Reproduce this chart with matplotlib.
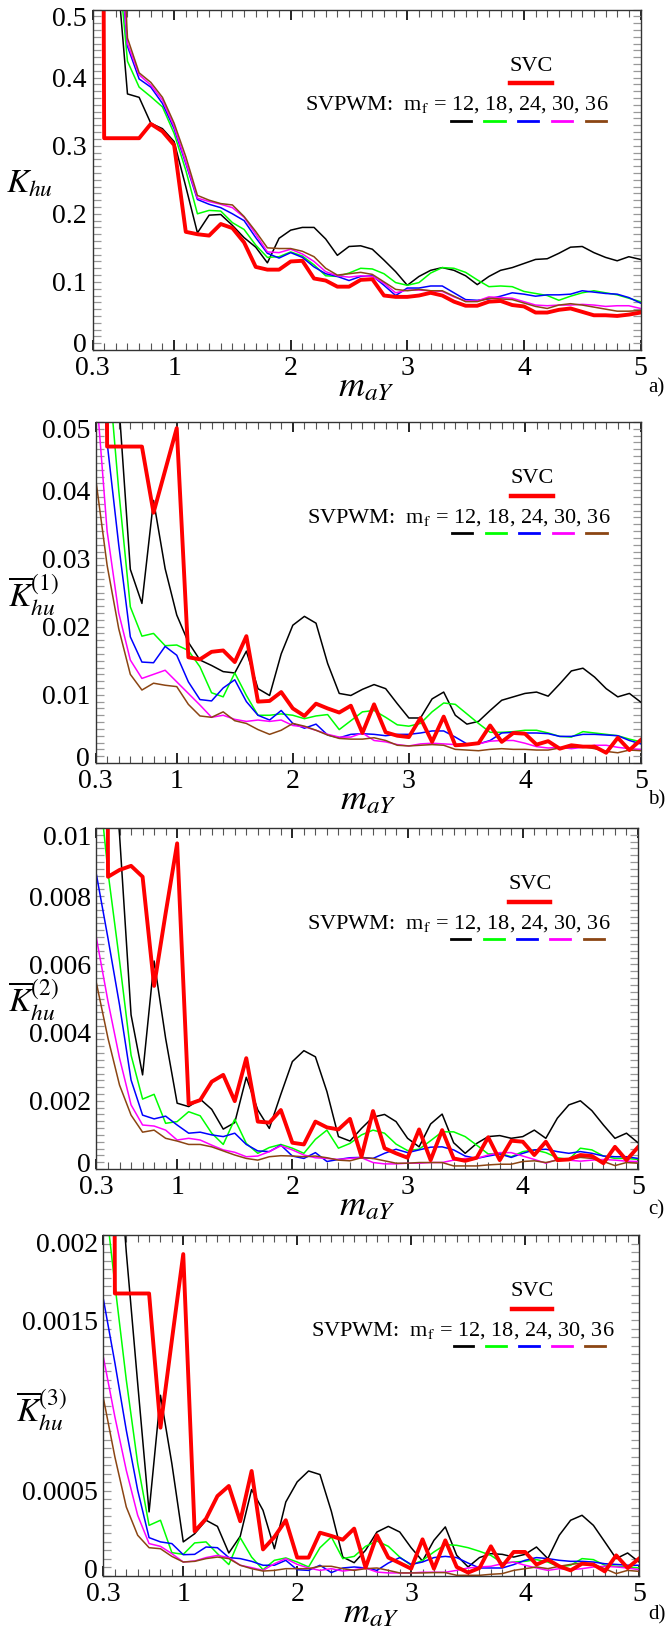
import numpy as np
import matplotlib.pyplot as plt
import matplotlib.transforms as mtransforms
from matplotlib.ticker import MultipleLocator

plt.rcParams['font.family'] = ['Liberation Serif', 'DejaVu Serif']
plt.rcParams['mathtext.fontset'] = 'stix'

m_aY = [0.3, 0.4, 0.5, 0.6, 0.7, 0.8, 0.9, 1.0,
        1.1, 1.2, 1.3, 1.4, 1.5, 1.6, 1.7, 1.8, 1.9, 2.0,
        2.1, 2.2, 2.3, 2.4, 2.5, 2.6, 2.7, 2.8, 2.9, 3.0,
        3.1, 3.2, 3.3, 3.4, 3.5, 3.6, 3.7, 3.8, 3.9, 4.0,
        4.1, 4.2, 4.3, 4.4, 4.5, 4.6, 4.7, 4.8, 4.9, 5.0]

# a) K_hu
a_svc = [5.0, .311, .311, .311, .311, .332, .321, .301,
         .1735, .170, .168, .185, .179, .158, .122, .118, .118, .130,
         .131, .105, .102, .093, .093, .103, .104, .080, .078, .078,
         .080, .084, .080, .071, .065, .065, .071, .072, .066, .064,
         .055, .055, .059, .061, .056, .051, .051, .050, .052, .055]
a_mf12 = [1.0, 0.8, 0.58, .376, .371, .333, .325, .306,
          .240, .172, .198, .199, .183, .165, .151, .128, .164, .176,
          .180, .180, .163, .139, .152, .153, .148, .132, .115, .095,
          .108, .117, .121, .117, .109, .096, .108, .117, .121, .127,
          .133, .134, .142, .151, .152, .143, .136, .131, .137, .133]
a_mf18 = [1.0, 0.8, 0.61, .424, .386, .372, .357, .318,
          .264, .200, .205, .204, .187, .177, .154, .136, .137, .144,
          .138, .125, .109, .108, .113, .120, .119, .112, .099, .095,
          .099, .113, .121, .120, .114, .103, .093, .094, .093, .086,
          .083, .080, .073, .079, .084, .087, .084, .081, .076, .071]
a_mf24 = [1.0, 0.8, 0.65, .446, .398, .386, .362, .325,
          .274, .221, .214, .209, .200, .190, .165, .142, .135, .143,
          .136, .122, .112, .108, .102, .108, .109, .095, .080, .091,
          .091, .094, .094, .084, .074, .073, .075, .079, .084, .082,
          .079, .081, .081, .082, .087, .085, .083, .082, .077, .069]
a_mf30 = [1.0, 0.8, 0.66, .450, .404, .389, .367, .328,
          .276, .223, .218, .214, .209, .195, .170, .144, .143, .148,
          .141, .130, .115, .109, .107, .109, .108, .098, .084, .088,
          .088, .087, .086, .078, .072, .072, .078, .077, .076, .071,
          .066, .065, .066, .066, .067, .066, .064, .065, .065, .061]
a_mf36 = [1.0, 0.9, 0.8, .458, .407, .393, .371, .333,
          .284, .227, .220, .215, .213, .196, .174, .150, .149, .149,
          .145, .137, .120, .110, .112, .114, .111, .100, .089, .087,
          .089, .087, .087, .079, .071, .071, .076, .075, .074, .069,
          .064, .061, .066, .068, .066, .063, .060, .057, .057, .058]

# b) K_hu^(1)
b_svc = [0.5, .0464, .0464, .0464, .0464, .0367, .0429, .0491,
         .0155, .0152, .0163, .0165, .0148, .0186, .0090, .0091, .0104, .0080,
         .0069, .0087, .0080, .0074, .0084, .0044, .0086, .0045, .0040, .0038,
         .0066, .0031, .0068, .0026, .0027, .0029, .0055, .0031, .0044, .0043,
         .0027, .0032, .0021, .0026, .0024, .0024, .0015, .0037, .0019, .0034]
b_mf12 = [.12, .08, .053, .0284, .0234, .0385, .0285, .0217,
          .0177, .0151, .0143, .0134, .0132, .0164, .0109, .0099, .0160, .0202,
          .0215, .0205, .0146, .0102, .0099, .0108, .0115, .0109, .0087, .0066,
          .0066, .0094, .0104, .0070, .0057, .0061, .0077, .0092, .0097, .0102,
          .0104, .0098, .0116, .0135, .0139, .0126, .0109, .0097, .0102, .0089]
b_mf18 = [.09, .06, .040, .0229, .0186, .0190, .0172, .0173,
          .0165, .0141, .0103, .0097, .0132, .0099, .0070, .0070, .0072, .0070,
          .0065, .0069, .0071, .0049, .0062, .0075, .0077, .0067, .0056, .0054,
          .0058, .0075, .0088, .0086, .0072, .0058, .0045, .0045, .0046, .0048,
          .0048, .0044, .0039, .0038, .0046, .0044, .0042, .0040, .0035, .0031]
b_mf24 = [.075, .047, .032, .0185, .0148, .0147, .0171, .0158,
          .0119, .0093, .0091, .0110, .0122, .0090, .0070, .0063, .0077, .0058,
          .0051, .0057, .0041, .0037, .0042, .0043, .0042, .0040, .0042, .0042,
          .0044, .0047, .0047, .0038, .0028, .0028, .0033, .0044, .0045, .0044,
          .0044, .0043, .0039, .0039, .0042, .0042, .0041, .0040, .0033, .0028]
b_mf30 = [.056, .034, .022, .0151, .0124, .0130, .0136, .0119,
          .0102, .0085, .0067, .0070, .0064, .0061, .0063, .0061, .0063, .0055,
          .0053, .0048, .0042, .0038, .0038, .0044, .0033, .0031, .0027, .0025,
          .0028, .0029, .0028, .0027, .0027, .0028, .0032, .0033, .0033, .0029,
          .0024, .0022, .0023, .0021, .0023, .0026, .0026, .0023, .0021, .0020]
b_mf36 = [.0419, .029, .0197, .0130, .0107, .0117, .0114, .0112,
          .0086, .0069, .0067, .0075, .0062, .0058, .0049, .0042, .0048, .0058,
          .0054, .0048, .0041, .0036, .0035, .0035, .0037, .0033, .0026, .0025,
          .0026, .0027, .0026, .0020, .0019, .0018, .0020, .0021, .0020, .0020,
          .0019, .0019, .0022, .0023, .0024, .0021, .0017, .0015, .0019, .0018]

# c) K_hu^(2)
c_svc = [.1, .00857, .00877, .00889, .00857, .00537, .00750, .00955,
         .00190, .00202, .00256, .00276, .00199, .00325, .00139, .00136, .00173, .00077,
         .00072, .00139, .00122, .00116, .00147, .00036, .00170, .00061, .00046, .00033,
         .00116, .00026, .00114, .00031, .00024, .00033, .00093, .00026, .00083, .00080,
         .00041, .00080, .00026, .00028, .00041, .00038, .00017, .00065, .00026, .00064]
c_mf12 = [.03, .014, .0098, .00452, .00276, .00610, .00383, .00193,
          .00183, .00205, .00175, .00117, .00136, .00269, .00173, .00119, .00219, .00315,
          .00347, .00329, .00227, .00095, .00082, .00119, .00152, .00160, .00139, .00090,
          .00065, .00132, .00161, .00077, .00046, .00075, .00095, .00098, .00090, .00095,
          .00114, .00090, .00149, .00188, .00200, .00171, .00129, .00090, .00105, .00077]
c_mf18 = [.012, .0087, .0061, .00334, .00205, .00219, .00134, .00139,
          .00168, .00156, .00105, .00072, .00146, .00075, .00046, .00063, .00072, .00061,
          .00046, .00087, .00114, .00061, .00075, .00100, .00114, .00105, .00073, .00054,
          .00058, .00083, .00109, .00109, .00095, .00070, .00044, .00046, .00036, .00051,
          .00056, .00048, .00033, .00028, .00061, .00056, .00038, .00031, .00031, .00028]
c_mf24 = [.00862, .00676, .00481, .00261, .00158, .00147, .00155, .00129,
          .00105, .00108, .00100, .00095, .00105, .00072, .00053, .00051, .00070, .00038,
          .00031, .00048, .00022, .00028, .00033, .00034, .00031, .00046, .00058, .00048,
          .00056, .00064, .00065, .00056, .00038, .00031, .00038, .00044, .00034, .00046,
          .00056, .00058, .00051, .00046, .00051, .00046, .00038, .00036, .00036, .00031]
c_mf30 = [.00676, .00491, .00325, .00188, .00129, .00126, .00114, .00085,
          .00090, .00085, .00070, .00056, .00049, .00036, .00038, .00051, .00068, .00056,
          .00041, .00033, .00031, .00028, .00031, .00033, .00019, .00015, .00015, .00017,
          .00017, .00019, .00019, .00026, .00031, .00031, .00041, .00048, .00048, .00038,
          .00028, .00017, .00028, .00026, .00023, .00026, .00028, .00026, .00023, .00022]
c_mf36 = [.00544, .00383, .00246, .00158, .00108, .00114, .00090, .00082,
          .00072, .00072, .00065, .00053, .00041, .00031, .00026, .00036, .00039, .00038,
          .00036, .00038, .00033, .00026, .00024, .00033, .00031, .00024, .00017, .00017,
          .00019, .00019, .00019, .00009, .00009, .00009, .00012, .00014, .00014, .00022,
          .00024, .00019, .00026, .00028, .00034, .00031, .00022, .00010, .00019, .00017]

# d) K_hu^(3)
d_svc = [.02, .001657, .001657, .001657, .001657, .000870, .001383, .001888,
         .000262, .000336, .000469, .000528, .000321, .000616, .000156, .000229, .000327, .000108,
         .000108, .000254, .000235, .000213, .000278, .000049, .000239, .000108, .000076, .000043,
         .000215, .000043, .000209, .000053, .000020, .000047, .000174, .000057, .000141, .000141,
         .000067, .000096, .000057, .000033, .000072, .000067, .000027, .000121, .000047, .000102]
d_mf12 = [.004, .0028, .0019, .00113, .000376, .00106, .000659, .000200,
          .000248, .000327, .000291, .000135, .000233, .000507, .000385, .000160, .000434, .000552,
          .000616, .000595, .000379, .000111, .000078, .000151, .000258, .000291, .000258, .000166,
          .000088, .000209, .000288, .000121, .000053, .000108, .000131, .000127, .000111, .000127,
          .000170, .000102, .000239, .000327, .000356, .000297, .000200, .000102, .000135, .000082]
d_mf18 = [.0023, .00171, .00115, .00066, .000297, .000327, .000137, .000127,
          .000194, .000200, .000131, .000067, .000225, .000111, .000037, .000092, .000106, .000082,
          .000053, .000166, .000229, .000102, .000115, .000174, .000205, .000174, .000111, .000063,
          .000092, .000141, .000184, .000180, .000166, .000145, .000121, .000076, .000082, .000086,
          .000096, .000082, .000053, .000063, .000102, .000096, .000063, .000057, .000053, .000047]
d_mf24 = [.00162, .00125, .000855, .000503, .000225, .000200, .000190, .000125,
          .000127, .000170, .000166, .000108, .000102, .000086, .000063, .000063, .000092, .000037,
          .000033, .000063, .000020, .000047, .000053, .000047, .000033, .000076, .000108, .000068,
          .000082, .000108, .000115, .000108, .000076, .000047, .000047, .000047, .000067, .000092,
          .000108, .000102, .000092, .000086, .000086, .000082, .000072, .000068, .000063, .000063]
d_mf30 = [.00128, .000933, .000620, .000356, .000190, .000174, .000131, .000082,
          .000088, .000108, .000121, .000108, .000063, .000049, .000033, .000072, .000102, .000068,
          .000047, .000033, .000043, .000029, .000037, .000047, .000023, .000018, .000018, .000018,
          .000022, .000022, .000022, .000033, .000047, .000053, .000057, .000072, .000082, .000063,
          .000047, .000033, .000043, .000037, .000043, .000053, .000057, .000053, .000047, .000037]
d_mf36 = [.00104, .000698, .000405, .000239, .000166, .000160, .000115, .000082,
          .000086, .000102, .000111, .000102, .000063, .000043, .000029, .000033, .000043, .000043,
          .000043, .000057, .000057, .000043, .000033, .000043, .000047, .000033, .000018, .000018,
          .000018, .000020, .000020, .000004, .000004, .000004, .000010, .000014, .000033, .000043,
          .000053, .000043, .000057, .000068, .000076, .000068, .000043, .000014, .000033, .000027]

x_ticks = [0.3, 1, 2, 3, 4, 5]
x_labels = ['0.3', '1', '2', '3', '4', '5']
mf_colors = ['black', '#00ff00', '#0000ff', '#ff00ff', '#8b4513']
dash_x = [(0.654, 0.690), (0.715, 0.752), (0.776, 0.813), (0.838, 0.875), (0.900, 0.937)]

W, H = 668, 1628
fig = plt.figure(figsize=(W / 100, H / 100), dpi=100)


def shift(label, dy_px):
    off = mtransforms.ScaledTranslation(0, dy_px / 100, fig.dpi_scale_trans)
    label.set_transform(label.get_transform() + off)


def panel(box, svc, mf, ytop, yticks, ylabels, yminor, ylab, ylab_pos, tag, tag_y):
    l, t, r, b = box
    ax = fig.add_axes([l / W, 1 - b / H, (r - l) / W, (b - t) / H])
    for y, c in zip(mf, mf_colors):
        ax.plot(m_aY, y, color=c, lw=1.1)
    ax.plot(m_aY, svc, color='#ff0000', lw=2.8)
    ax.set_xlim(0.3, 5)
    ax.set_ylim(0, ytop)
    ax.set_xticks(x_ticks)
    ax.set_xticklabels(x_labels)
    ax.xaxis.set_minor_locator(MultipleLocator(0.1))
    ax.set_yticks(yticks)
    ax.set_yticklabels(ylabels)
    ax.yaxis.set_minor_locator(MultipleLocator(yminor))
    ax.tick_params(which='both', direction='in', top=True, right=True, labelsize=20)
    ax.tick_params(axis='x', which='major', length=7, width=1.2, color='black', pad=4)
    ax.tick_params(axis='x', which='minor', length=5, width=0.8, color='#555555')
    ax.tick_params(axis='y', which='both', length=6, width=0.9, color='#999999', pad=4)
    lbls = ax.get_yticklabels()
    shift(lbls[0], 7)
    shift(lbls[-1], -7)
    for s in ax.spines.values():
        s.set_color('#333333')
        s.set_linewidth(1.0)
    ax.set_xlabel(r'$m_{aY}$', fontsize=26, labelpad=-7)
    fig.text(ylab_pos[0] / W, 1 - ylab_pos[1] / H, ylab, fontsize=24, ha='left', va='top')
    fig.text(648 / W, 1 - tag_y / H, tag, fontsize=15, ha='left', va='center')

    # legend drawn by hand, as in the original
    ax.text(0.80, 0.833, 'SVC', transform=ax.transAxes, ha='center', va='center', fontsize=16)
    ax.plot([0.762, 0.838], [0.784, 0.784], transform=ax.transAxes, color='#ff0000', lw=3.2,
            clip_on=False)
    ax.text(0.388, 0.72, r'SVPWM:  m$_\mathrm{f}$ = 12, 18, 24, 30, 36', transform=ax.transAxes,
            ha='left', va='center', fontsize=16)
    for (x0, x1), c in zip(dash_x, mf_colors):
        ax.plot([x0, x1], [0.674, 0.674], transform=ax.transAxes, color=c, lw=2.0)
    return ax


panel((92.5, 9.5, 640.5, 350), a_svc, [a_mf12, a_mf18, a_mf24, a_mf30, a_mf36], 0.5,
      [0, 0.1, 0.2, 0.3, 0.4, 0.5], ['0', '0.1', '0.2', '0.3', '0.4', '0.5'], 0.01,
      r'$K_{hu}$', (6, 169), 'a)', 388)
panel((95.5, 422, 641, 763), b_svc, [b_mf12, b_mf18, b_mf24, b_mf30, b_mf36], 0.05,
      [0, 0.01, 0.02, 0.03, 0.04, 0.05], ['0', '0.01', '0.02', '0.03', '0.04', '0.05'], 0.001,
      r'$\overline{K}_{hu}^{(1)}$', (8, 573), 'b)', 800)
panel((96.5, 828, 638, 1169), c_svc, [c_mf12, c_mf18, c_mf24, c_mf30, c_mf36], 0.01,
      [0, 0.002, 0.004, 0.006, 0.008, 0.01], ['0', '0.002', '0.004', '0.006', '0.008', '0.01'],
      0.0002, r'$\overline{K}_{hu}^{(2)}$', (8, 978), 'c)', 1210)
panel((103.5, 1235, 639, 1576), d_svc, [d_mf12, d_mf18, d_mf24, d_mf30, d_mf36], 0.002,
      [0, 0.0005, 0.0015, 0.002], ['0', '0.0005', '0.0015', '0.002'], 0.00005,
      r'$\overline{K}_{hu}^{(3)}$', (16, 1388), 'd)', 1615)

fig.savefig('out.png', dpi=100)
